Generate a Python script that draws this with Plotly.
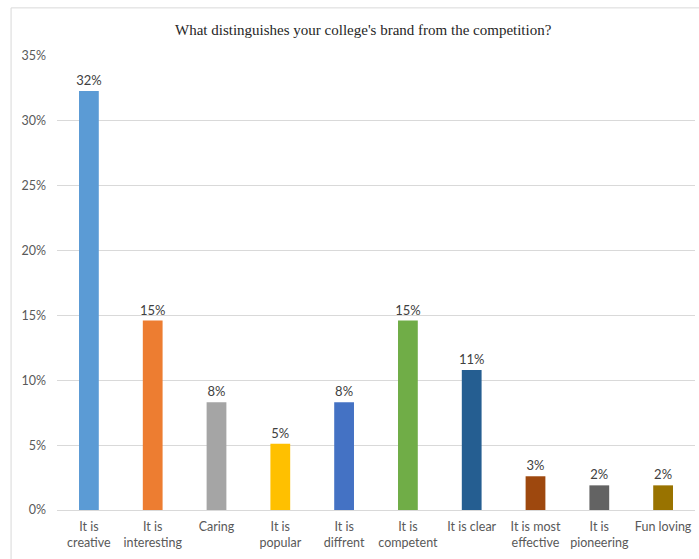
import plotly.graph_objects as go

# Survey answers and their share of responses
categories = [
    "It is<br>creative", "It is<br>interesting", "Caring", "It is<br>popular",
    "It is<br>diffrent", "It is<br>competent", "It is clear",
    "It is most<br>effective", "It is<br>pioneering", "Fun loving",
]
shares = [0.323, 0.146, 0.083, 0.051, 0.083, 0.146, 0.108, 0.026, 0.019, 0.019]
bar_colors = [
    "#5b9bd5", "#ed7d31", "#a5a5a5", "#ffc000", "#4472c4",
    "#70ad47", "#255e91", "#9e480e", "#636363", "#997300",
]
y_ticks = [0, 0.05, 0.10, 0.15, 0.20, 0.25, 0.30, 0.35]
title_text = "What distinguishes your college's brand from the competition?"

fig = go.Figure(
    go.Bar(
        x=categories,
        y=shares,
        marker=dict(color=bar_colors, line=dict(width=0)),
        texttemplate="%{y:.0%}",
        textposition="outside",
        constraintext="none",
        textfont=dict(family="Lato", size=13, color="#404040"),
        cliponaxis=False,
        hoverinfo="skip",
    )
)

axis_font = dict(family="Lato", size=12.5, color="#595959")

fig.update_layout(
    width=699,
    height=559,
    margin=dict(l=57, r=4, t=56, b=49),
    paper_bgcolor="white",
    plot_bgcolor="white",
    bargap=0.69,
    showlegend=False,
    annotations=[
        dict(
            text=title_text,
            xref="paper", yref="paper",
            x=0.48, y=1.057,
            xanchor="center", yanchor="middle",
            showarrow=False,
            font=dict(family="Liberation Serif", size=15, color="#262626"),
        )
    ],
    shapes=[
        # light frame around the chart area (left and top edges)
        dict(type="line", xref="paper", yref="paper",
             x0=-0.072, x1=-0.072, y0=1.106, y1=-0.2,
             line=dict(color="#d9d9d9", width=1)),
        dict(type="line", xref="paper", yref="paper",
             x0=-0.072, x1=1.1, y0=1.106, y1=1.106,
             line=dict(color="#d9d9d9", width=1)),
    ],
)

fig.update_xaxes(
    tickfont=axis_font,
    showgrid=False,
    showline=True,
    linecolor="#d9d9d9",
    linewidth=1,
    ticks="",
    ticklabelstandoff=5,
    fixedrange=True,
)
fig.update_yaxes(
    range=[0, 0.35],
    tickvals=y_ticks,
    tickformat=".0%",
    tickfont=axis_font,
    showgrid=True,
    gridcolor="#d9d9d9",
    gridwidth=1,
    zeroline=False,
    showline=False,
    ticks="",
    ticklabelstandoff=10,
    fixedrange=True,
)

fig.write_html("out.html")
